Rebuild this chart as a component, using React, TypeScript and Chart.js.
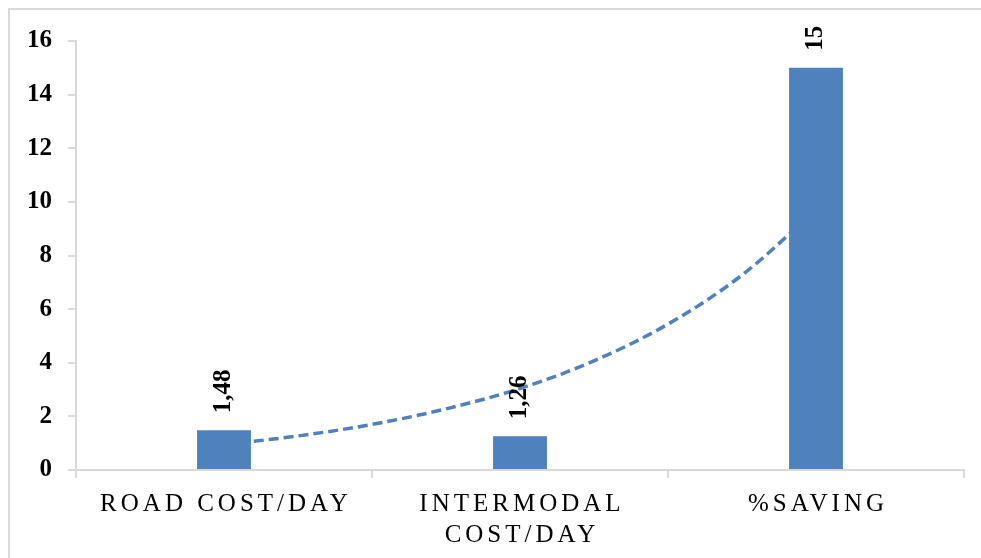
import React, { useEffect, useRef } from 'react';
import { Chart, registerables } from 'chart.js';

Chart.register(...registerables);

// ---- data ----
const categories: string[][] = [['ROAD COST/DAY'], ['INTERMODAL', 'COST/DAY'], ['%SAVING']];
const values: number[] = [1.48, 1.26, 15];
const valueLabels: string[] = ['1,48', '1,26', '15'];
// dashed exponential trend line (x = category index)
const trendX: number[] = [0, 0.25, 0.5, 0.75, 1, 1.25, 1.5, 1.75, 2];
const trendY: number[] = [0.95, 1.27, 1.7, 2.28, 3.04, 4.07, 5.44, 7.27, 9.7];
const yMin = 0;
const yMax = 16;
const yStep = 2;

const FONT = '"Liberation Serif", "Times New Roman", serif';
const BLUE = '#4F81BD';
const AXIS = '#d9d9d9';

const CANVAS_W = 990;
const CANVAS_H = 558;

const xLabelPlugin = {
  id: 'xLabelsSpaced',
  afterDraw(chart: any) {
    const ctx: CanvasRenderingContext2D = chart.ctx;
    const xs = chart.scales.x;
    const sp = 4;
    ctx.save();
    ctx.font = `25px ${FONT}`;
    ctx.fillStyle = '#000';
    ctx.textBaseline = 'alphabetic';
    ctx.textAlign = 'left';
    const hasLS = 'letterSpacing' in ctx;
    if (hasLS) (ctx as any).letterSpacing = sp + 'px';
    categories.forEach((lines, i) => {
      const cx = xs.getPixelForValue(i);
      lines.forEach((line, j) => {
        const y = chart.chartArea.bottom + 41 + j * 31;
        if (hasLS) {
          const w = ctx.measureText(line).width - sp;
          ctx.fillText(line, cx - w / 2, y);
        } else {
          let total = 0;
          for (const ch of line) total += ctx.measureText(ch).width;
          total += sp * (line.length - 1);
          let x = cx - total / 2;
          for (const ch of line) {
            ctx.fillText(ch, x, y);
            x += ctx.measureText(ch).width + sp;
          }
        }
      });
    });
    ctx.restore();
  },
};

const dataLabelPlugin = {
  id: 'rotatedDataLabels',
  afterDatasetsDraw(chart: any) {
    const ctx: CanvasRenderingContext2D = chart.ctx;
    const meta = chart.getDatasetMeta(0);
    ctx.save();
    ctx.font = `bold 25px ${FONT}`;
    ctx.fillStyle = '#000';
    meta.data.forEach((bar: any, i: number) => {
      ctx.save();
      ctx.translate(bar.x, bar.y - 17);
      ctx.rotate(-Math.PI / 2);
      ctx.textAlign = 'left';
      ctx.textBaseline = 'middle';
      ctx.fillText(valueLabels[i], 0, 0);
      ctx.restore();
    });
    ctx.restore();
  },
};

export default function App() {
  const ref = useRef<HTMLCanvasElement | null>(null);

  useEffect(() => {
    document.documentElement.style.overflow = 'hidden';
    document.body.style.overflow = 'hidden';
    document.body.style.margin = '0';
    if (!ref.current) return;
    Chart.defaults.font.family = FONT;
    const chart = new Chart(ref.current, {
      type: 'bar',
      data: {
        labels: categories as any,
        datasets: [
          {
            type: 'bar',
            data: values,
            backgroundColor: BLUE,
            borderWidth: 0,
            barPercentage: 0.182,
            categoryPercentage: 1,
            grouped: false,
            xAxisID: 'x',
            order: 1,
          } as any,
          {
            type: 'line',
            data: trendX.map((x, i) => ({ x, y: trendY[i] })),
            xAxisID: 'x2',
            borderColor: BLUE,
            borderWidth: 3.5,
            borderDash: [10, 5],
            pointRadius: 0,
            cubicInterpolationMode: 'monotone',
            fill: false,
            order: 2,
          } as any,
        ],
      },
      options: {
        animation: false,
        responsive: false,
        maintainAspectRatio: false,
        layout: { padding: { top: 28, right: CANVAS_W - 954, left: 0, bottom: 0 } },
        plugins: { legend: { display: false }, tooltip: { enabled: false } },
        scales: {
          x: {
            type: 'category',
            offset: true,
            grid: {
              display: true,
              drawOnChartArea: false,
              drawTicks: true,
              tickLength: 8,
              color: AXIS,
              lineWidth: 2,
              offset: true,
            },
            border: { display: true, color: AXIS, width: 2 },
            ticks: { display: false },
            afterFit(s: any) {
              s.height = CANVAS_H - 460;
            },
          },
          x2: {
            type: 'linear',
            display: false,
            offset: false,
            grid: { offset: false },
            min: -0.5,
            max: 2.5,
          },
          y: {
            min: yMin,
            max: yMax,
            ticks: {
              stepSize: yStep,
              color: '#000',
              font: { size: 25, weight: 'bold', family: FONT },
              padding: 16,
            },
            grid: {
              drawOnChartArea: false,
              drawTicks: true,
              tickLength: 8,
              color: AXIS,
              lineWidth: 2,
            },
            border: { display: true, color: AXIS, width: 2 },
            afterFit(s: any) {
              s.width = 66;
            },
          },
        } as any,
      },
      plugins: [dataLabelPlugin, xLabelPlugin],
    });
    return () => chart.destroy();
  }, []);

  return (
    <div
      style={{
        position: 'fixed',
        left: 8,
        top: 8,
        width: CANVAS_W + 2,
        height: CANVAS_H + 2,
        boxSizing: 'border-box',
        borderTop: `2px solid ${AXIS}`,
        borderLeft: `2px solid ${AXIS}`,
        background: '#fff',
        overflow: 'hidden',
      }}
    >
      <canvas
        ref={ref}
        width={CANVAS_W}
        height={CANVAS_H}
        style={{ display: 'block', width: CANVAS_W, height: CANVAS_H }}
      />
    </div>
  );
}
